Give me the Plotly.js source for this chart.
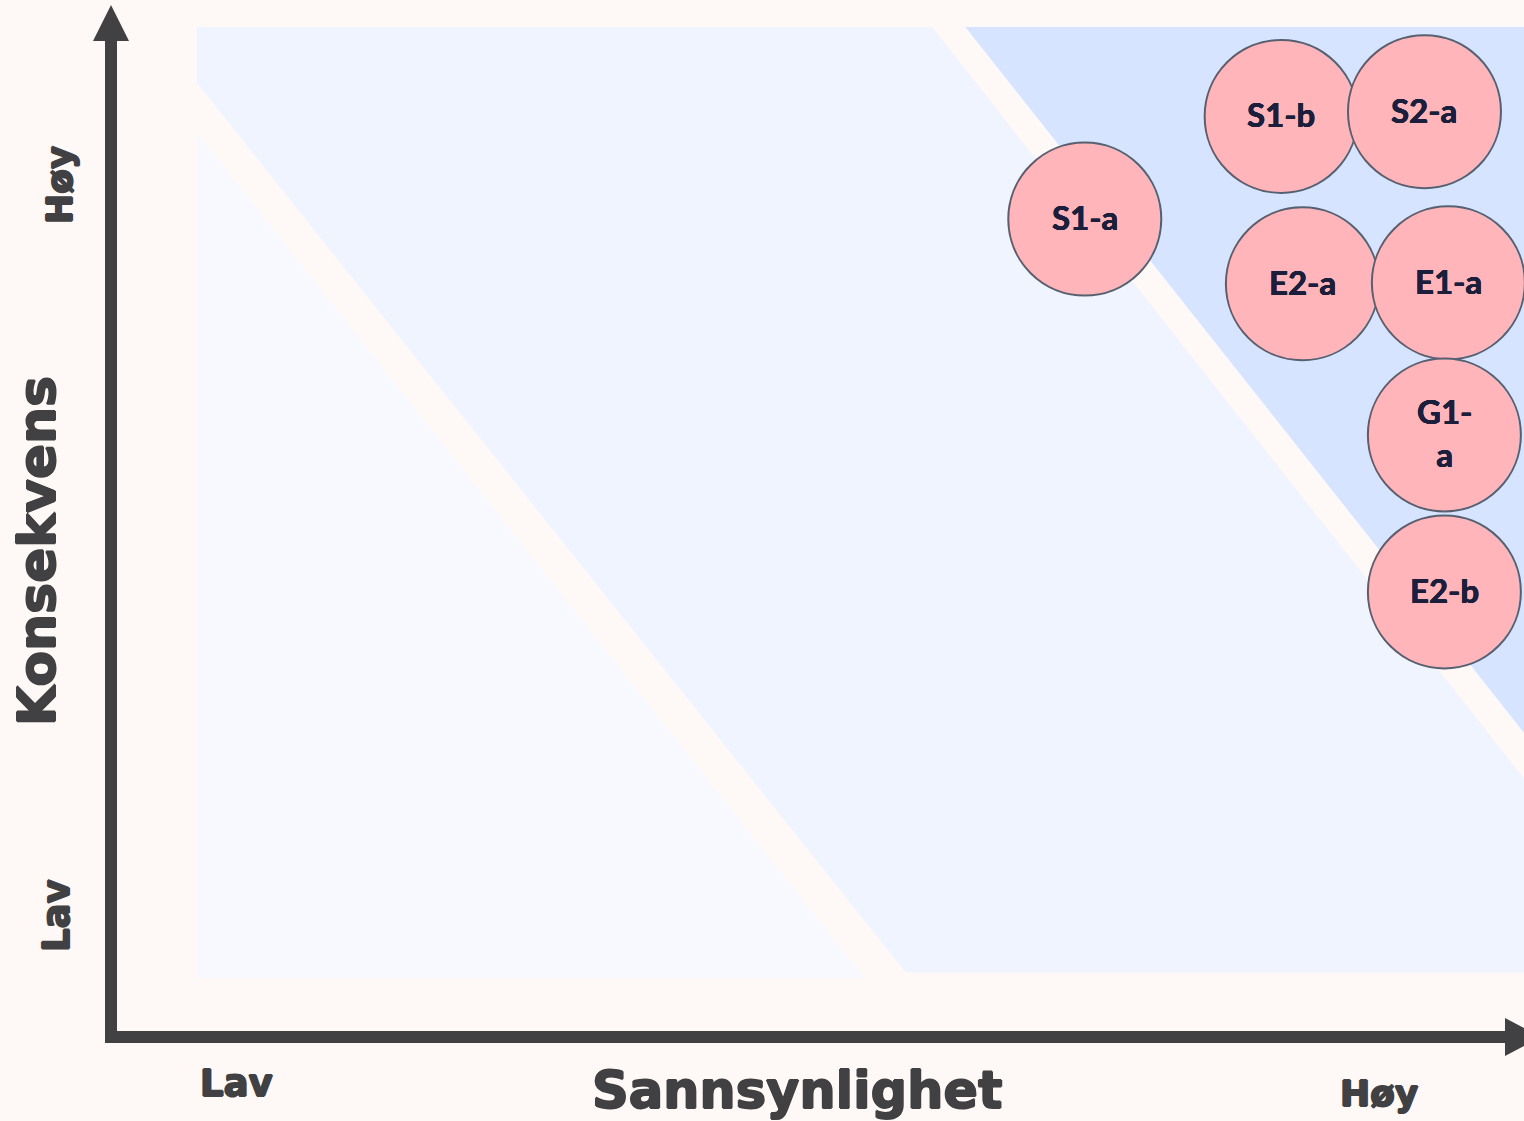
<!DOCTYPE html>
<html>
<head>
<meta charset="utf-8">
<script src="https://cdn.plot.ly/plotly-3.0.1.min.js"></script>
<style>html,body{margin:0;padding:0;background:#FEF9F6;}#chart{width:1524px;height:1121px;}</style>
</head>
<body>
<div id="chart"></div>
<script>
// Risk items: probability (Sannsynlighet) and consequence (Konsekvens), 0-100 scale
const riskIds = ['S1-a', 'S1-b', 'S2-a', 'E2-a', 'E1-a', 'G1-a', 'E2-b'];
const riskLabels = ['S1-a', 'S1-b', 'S2-a', 'E2-a', 'E1-a', 'G1-<br>a', 'E2-b'];
const probability = [66.9, 81.7, 92.5, 83.3, 94.3, 94.0, 94.0];
const consequence = [79.8, 90.6, 91.1, 73.0, 73.1, 57.1, 40.6];

// Risk zone boundaries (same 0-100 scale)
const zoneLowX = [0, 0, 50.3];
const zoneLowY = [88.9, 0, 0];
const zoneMidX = [0, 55.4, 100, 100, 53.4, 0];
const zoneMidY = [100, 100, 21.0, 0.6, 0.6, 94.1];
const zoneHighX = [57.9, 100, 100];
const zoneHighY = [100, 100, 25.8];

// Axis texts
const xTitle = 'Sannsynlighet';
const yTitle = 'Konsekvens';
const lowLabel = 'Lav';
const highLabel = 'Høy';

const W = 1524, H = 1121;
const px = v => v / W;
const py = v => 1 - v / H;
const ink = '#414143';

function zone(xs, ys, color) {
  return {
    type: 'scatter', mode: 'lines', x: xs.concat([xs[0]]), y: ys.concat([ys[0]]),
    fill: 'toself', fillcolor: color, line: {width: 0, color: color},
    hoverinfo: 'skip', showlegend: false
  };
}

const traces = [
  zone(zoneLowX, zoneLowY, '#F7F9FF'),
  zone(zoneMidX, zoneMidY, '#EFF4FF'),
  zone(zoneHighX, zoneHighY, '#D6E4FF'),
  {
    type: 'scatter', mode: 'markers',
    x: probability, y: consequence, customdata: riskIds,
    marker: {size: 153, color: '#FFB5BA', line: {color: '#566070', width: 2}, opacity: 1},
    cliponaxis: false, hovertemplate: '%{customdata}<extra></extra>', showlegend: false
  }
];

const heavy = (c, d) => `${d}px 0 0 ${c}, -${d}px 0 0 ${c}, 0 ${d}px 0 ${c}, 0 -${d}px 0 ${c}`;
const font = (s) => ({family: '"DejaVu Sans", Lato, sans-serif', size: s, color: ink, weight: 700, shadow: heavy(ink, 0.9)});
const labelFont = {family: 'Lato, Carlito, sans-serif', size: 33, color: '#1B1F3B', weight: 700, shadow: heavy('#1B1F3B', 0.3)};

const riskAnnotations = riskLabels.map((t, i) => ({
  xref: 'x', yref: 'y', x: probability[i], y: consequence[i], text: t,
  showarrow: false, font: labelFont, xanchor: 'center', yanchor: 'middle', yshift: 2
}));

const layout = {
  width: W, height: H,
  margin: {l: 0, r: 0, t: 0, b: 0, pad: 0},
  paper_bgcolor: '#FEF9F6', plot_bgcolor: '#FEF9F6',
  showlegend: false,
  xaxis: {range: [-14.85, 100], visible: false, fixedrange: true},
  yaxis: {range: [-15.04, 102.84], visible: false, fixedrange: true},
  shapes: [
    {type: 'rect', xref: 'paper', yref: 'paper', x0: px(105), x1: px(117), y0: py(1043), y1: py(40), fillcolor: ink, line: {width: 0}},
    {type: 'path', xref: 'paper', yref: 'paper', path: `M ${px(93)} ${py(41)} L ${px(129)} ${py(41)} L ${px(111)} ${py(5)} Z`, fillcolor: ink, line: {width: 0}},
    {type: 'rect', xref: 'paper', yref: 'paper', x0: px(105), x1: px(1506), y0: py(1043), y1: py(1031), fillcolor: ink, line: {width: 0}},
    {type: 'path', xref: 'paper', yref: 'paper', path: `M ${px(1505)} ${py(1018)} L ${px(1505)} ${py(1056)} L ${px(1541)} ${py(1037)} Z`, fillcolor: ink, line: {width: 0}}
  ],
  annotations: riskAnnotations.concat([
    {xref: 'paper', yref: 'paper', x: px(37), y: py(551), text: yTitle, textangle: -90, showarrow: false, font: font(52), xanchor: 'center', yanchor: 'middle'},
    {xref: 'paper', yref: 'paper', x: px(59), y: py(185), text: highLabel, textangle: -90, showarrow: false, font: font(36), xanchor: 'center', yanchor: 'middle'},
    {xref: 'paper', yref: 'paper', x: px(56), y: py(916), text: lowLabel, textangle: -90, showarrow: false, font: font(37), xanchor: 'center', yanchor: 'middle'},
    {xref: 'paper', yref: 'paper', x: px(236), y: py(1083), text: lowLabel, showarrow: false, font: font(37), xanchor: 'center', yanchor: 'middle'},
    {xref: 'paper', yref: 'paper', x: px(797), y: py(1090), text: xTitle, showarrow: false, font: font(51), xanchor: 'center', yanchor: 'middle'},
    {xref: 'paper', yref: 'paper', x: px(1379), y: py(1093), text: highLabel, showarrow: false, font: font(36), xanchor: 'center', yanchor: 'middle'}
  ])
};

Plotly.newPlot('chart', traces, layout, {displayModeBar: false, staticPlot: true});
</script>
</body>
</html>
